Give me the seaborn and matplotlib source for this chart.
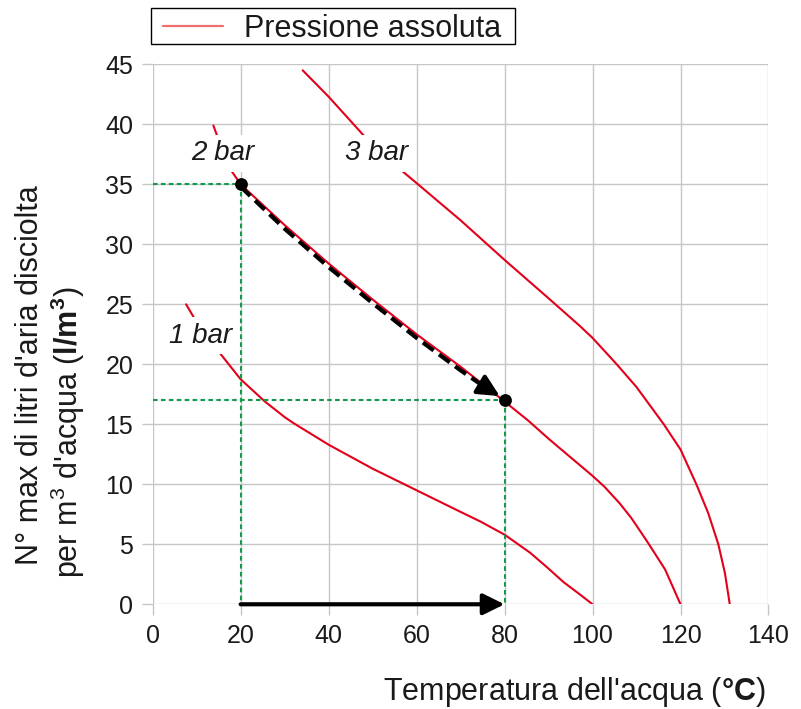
import pandas as pd
import matplotlib.pyplot as plt
from matplotlib.patches import Rectangle
import seaborn as sns

# Curves (temperature in degC, litres of air per m3 of water)
t_1bar = [7.6, 9.2, 10, 13.4, 20, 25.5, 30, 32, 40, 50, 60, 70, 74.5, 80, 85.8, 89.6, 93.4, 97.2, 100]
v_1bar = [25.0, 24.0, 23.5, 21.8, 18.75, 16.9, 15.6, 15.1, 13.3, 11.3, 9.5, 7.7, 6.9, 5.8, 4.3, 3.1, 1.85, 0.8, 0.0]

t_2bar = [13.8, 17.2, 20, 30, 40, 50, 60, 70, 80, 85.4, 90, 97.1, 100, 102.7, 106.2, 108.8,
          112.3, 116.5, 120]
v_2bar = [39.9, 36.5, 35.0, 31.6, 28.4, 25.4, 22.5, 19.8, 16.9, 15.3, 13.8, 11.6, 10.7, 9.8, 8.4, 7.2,
          5.3, 2.9, 0.0]

t_3bar = [34.1, 40, 47.9, 55.1, 60, 70, 80, 90, 97.1, 100, 105.5, 110, 116.2, 120, 123.6, 126.3,
          128.6, 130.1, 131.2]
v_3bar = [44.5, 42.3, 39.1, 36.6, 35.1, 32.0, 28.7, 25.5, 23.2, 22.2, 20.0, 18.1, 15.0, 12.9, 10.0, 7.6,
          5.0, 2.6, 0.0]

curve_labels = ["1 bar", "2 bar", "3 bar"]
label_pos = [(11.0, 21.8), (15.9, 37.0), (51.0, 37.0)]

# worked example: heating from 20 to 80 degC at 2 bar
point_t = [20, 80]
point_v = [35, 17]
path_t = [20, 30, 40, 50, 60, 70, 75.5]
path_v = [34.8, 31.3, 28.1, 25.1, 22.2, 19.5, 18.1]

x_ticks = [0, 20, 40, 60, 80, 100, 120, 140]
y_ticks = [0, 5, 10, 15, 20, 25, 30, 35, 40, 45]

rows = []
for name, ts, vs in zip(curve_labels, [t_1bar, t_2bar, t_3bar], [v_1bar, v_2bar, v_3bar]):
    for t, v in zip(ts, vs):
        rows.append({"curve": name, "temp": t, "litri": v})
df = pd.DataFrame(rows)

sns.set_theme(style="whitegrid")
plt.rcParams["font.family"] = ["Liberation Sans", "DejaVu Sans"]
plt.rcParams["mathtext.fontset"] = "custom"
plt.rcParams["mathtext.rm"] = "Liberation Sans"
plt.rcParams["mathtext.bf"] = "Liberation Sans:bold"

RED = "#e3001b"
GREEN = "#13994a"
TXT = "#1a1a1a"
GRID = "#c6c6c6"

fig = plt.figure(figsize=(8.01, 7.09), dpi=100)
W, H = 801, 709
ax = fig.add_axes([0.1906, 0.1477, 0.7688, 0.7616])

sns.lineplot(data=df, x="temp", y="litri", units="curve", estimator=None,
             sort=False, color=RED, linewidth=1.5, ax=ax, legend=False)
for ln in ax.lines:
    ln.set_solid_joinstyle("round")

# green reading lines
for t, v in zip(point_t, point_v):
    ax.plot([0, t], [v, v], color=GREEN, linestyle=(0, (2.2, 1.6)), linewidth=1.5, zorder=3)
    ax.plot([t, t], [v, 0], color=GREEN, linestyle=(0, (2.2, 1.6)), linewidth=1.5, zorder=3)

# dashed black path along the 2 bar curve
ax.plot(path_t, path_v, color="black", linestyle=(0, (3.2, 1.6)), linewidth=3.0,
        zorder=4, solid_capstyle="butt", dash_capstyle="butt")
ax.annotate("", xy=(78.9, 17.35), xytext=(path_t[-1], path_v[-1]),
            arrowprops=dict(arrowstyle="-|>,head_length=0.65,head_width=0.32",
                            color="black", lw=3.0, shrinkA=0, shrinkB=0,
                            mutation_scale=20), zorder=5)

# solid black arrow along the x axis
ax.annotate("", xy=(point_t[1], 0), xytext=(point_t[0], 0),
            arrowprops=dict(arrowstyle="-|>,head_length=0.65,head_width=0.32",
                            color="black", lw=3.0, shrinkA=0, shrinkB=0,
                            mutation_scale=20), zorder=5, annotation_clip=False)

sns.scatterplot(x=point_t, y=point_v, color="black", s=85, ax=ax, zorder=6,
                edgecolor="black", linewidth=0)

for lab, (x, y) in zip(curve_labels, label_pos):
    ax.text(x, y, lab, fontsize=20, style="italic", color=TXT,
            ha="center", va="baseline", zorder=7,
            bbox=dict(facecolor="white", edgecolor="none", pad=4))

ax.set_xlim(0, 140)
ax.set_ylim(0, 45)
ax.set_xticks(x_ticks)
ax.set_yticks(y_ticks)
ax.grid(True, color=GRID, linewidth=1.0)
for s in ax.spines.values():
    s.set_visible(False)
ax.tick_params(axis="both", which="both", direction="out", length=8, width=1.0,
               color=GRID, labelsize=18, labelcolor=TXT, pad=6,
               left=True, bottom=True)
ax.set_xlabel("")
ax.set_ylabel("")

# axis titles
fig.text(574 / W, 1 - 692 / H, r"Temperatura dell'acqua ($\mathbf{°C}$)",
         fontsize=22, color=TXT, ha="center", va="center")
fig.text(30 / W, 1 - 375 / H, "N° max di litri d'aria disciolta",
         fontsize=22, color=TXT, ha="center", va="center", rotation=90)
fig.text(68 / W, 1 - 432 / H, r"per m$^3$ d'acqua ($\mathbf{l/m^3}$)",
         fontsize=22, color=TXT, ha="center", va="center", rotation=90)

# legend above the plot, with a black frame
handle = plt.Line2D([], [], color="#ef6f6f", linewidth=1.6)
leg = ax.legend([handle], ["Pressione assoluta"], loc="lower left",
                bbox_to_anchor=(163 / W, 1 - 44 / H), bbox_transform=fig.transFigure,
                frameon=False, fontsize=22, handlelength=1.95, handletextpad=0.7,
                borderpad=0, borderaxespad=0)
for txt in leg.get_texts():
    txt.set_color(TXT)
fig.patches.append(Rectangle((151 / W, 1 - 44 / H), (515 - 151) / W, 36 / H,
                             transform=fig.transFigure, fill=False,
                             edgecolor="black", linewidth=1.0, zorder=10))

fig.savefig("out.png", dpi=100)
